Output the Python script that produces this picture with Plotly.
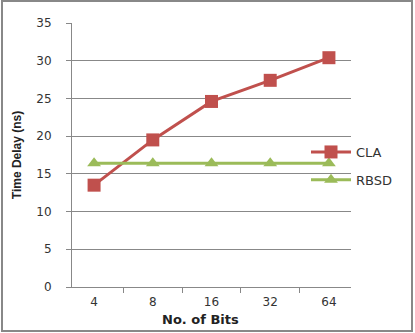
import plotly.graph_objects as go

categories = ["4", "8", "16", "32", "64"]
cla = [13.5, 19.5, 24.6, 27.4, 30.4]
rbsd = [16.4, 16.4, 16.4, 16.4, 16.4]
y_ticks = [0, 5, 10, 15, 20, 25, 30, 35]

W, H = 415, 333
ml, mr, mt, mb = 72, 64, 23, 46
pw = W - ml - mr
ph = H - mt - mb

fig = go.Figure()
fig.add_trace(go.Scatter(x=categories, y=cla, name="CLA", mode="lines+markers",
                         line=dict(color="#C0504D", width=3),
                         marker=dict(symbol="square", size=13, color="#C0504D"),
                         legendgroup="a"))
fig.add_trace(go.Scatter(x=categories, y=rbsd, name="RBSD", mode="lines+markers",
                         line=dict(color="#9BBB59", width=3),
                         marker=dict(symbol="triangle-up", size=12, color="#9BBB59"),
                         legendgroup="b"))

font = "DejaVu Sans, sans-serif"
fig.update_layout(
    width=W, height=H,
    margin=dict(l=ml, r=mr, t=mt, b=mb),
    paper_bgcolor="white", plot_bgcolor="white",
    font=dict(family=font, size=12, color="#333333"),
    showlegend=True,
    legend=dict(x=(306 - ml) / pw, y=1 - (148 - mt - 11) / ph, xanchor="left", yanchor="top",
                bgcolor="rgba(0,0,0,0)", font=dict(size=13, color="#333333"),
                tracegroupgap=8, itemwidth=40),
    xaxis=dict(type="category", showgrid=False, showline=True, linecolor="#888888",
               ticks="outside", ticklen=5, tickcolor="#888888", tickson="boundaries",
               ticklabelstandoff=4,
               tickfont=dict(size=12, color="#333333")),
    yaxis=dict(range=[0, 35], tickvals=y_ticks, showgrid=True, gridcolor="#888888", gridwidth=1,
               showline=True, linecolor="#888888", ticks="outside", ticklen=5, tickcolor="#888888",
               ticklabelstandoff=12,
               title=dict(text="<b>Time Delay (ns)</b>",
                          font=dict(family="Liberation Sans, Arial, sans-serif", size=12, color="#222222"),
                          standoff=12),
               tickfont=dict(size=12, color="#333333"), zeroline=False),
    annotations=[dict(text="<b>No. of Bits</b>", xref="paper", yref="paper",
                      x=(200 - ml) / pw, y=-(319 - (H - mb)) / ph, xanchor="center", yanchor="middle",
                      showarrow=False, font=dict(size=13, color="#222222"))],
    shapes=[dict(type="rect", xref="paper", yref="paper",
                 x0=(2 - ml) / pw, x1=(412 - ml) / pw,
                 y0=(H - 331 - mb) / ph, y1=(H - 1 - mb) / ph,
                 line=dict(color="#888888", width=2))],
)

fig.write_html("out.html", config={"displayModeBar": False},
               post_script="document.body.style.margin='0';document.body.style.padding='0';")
